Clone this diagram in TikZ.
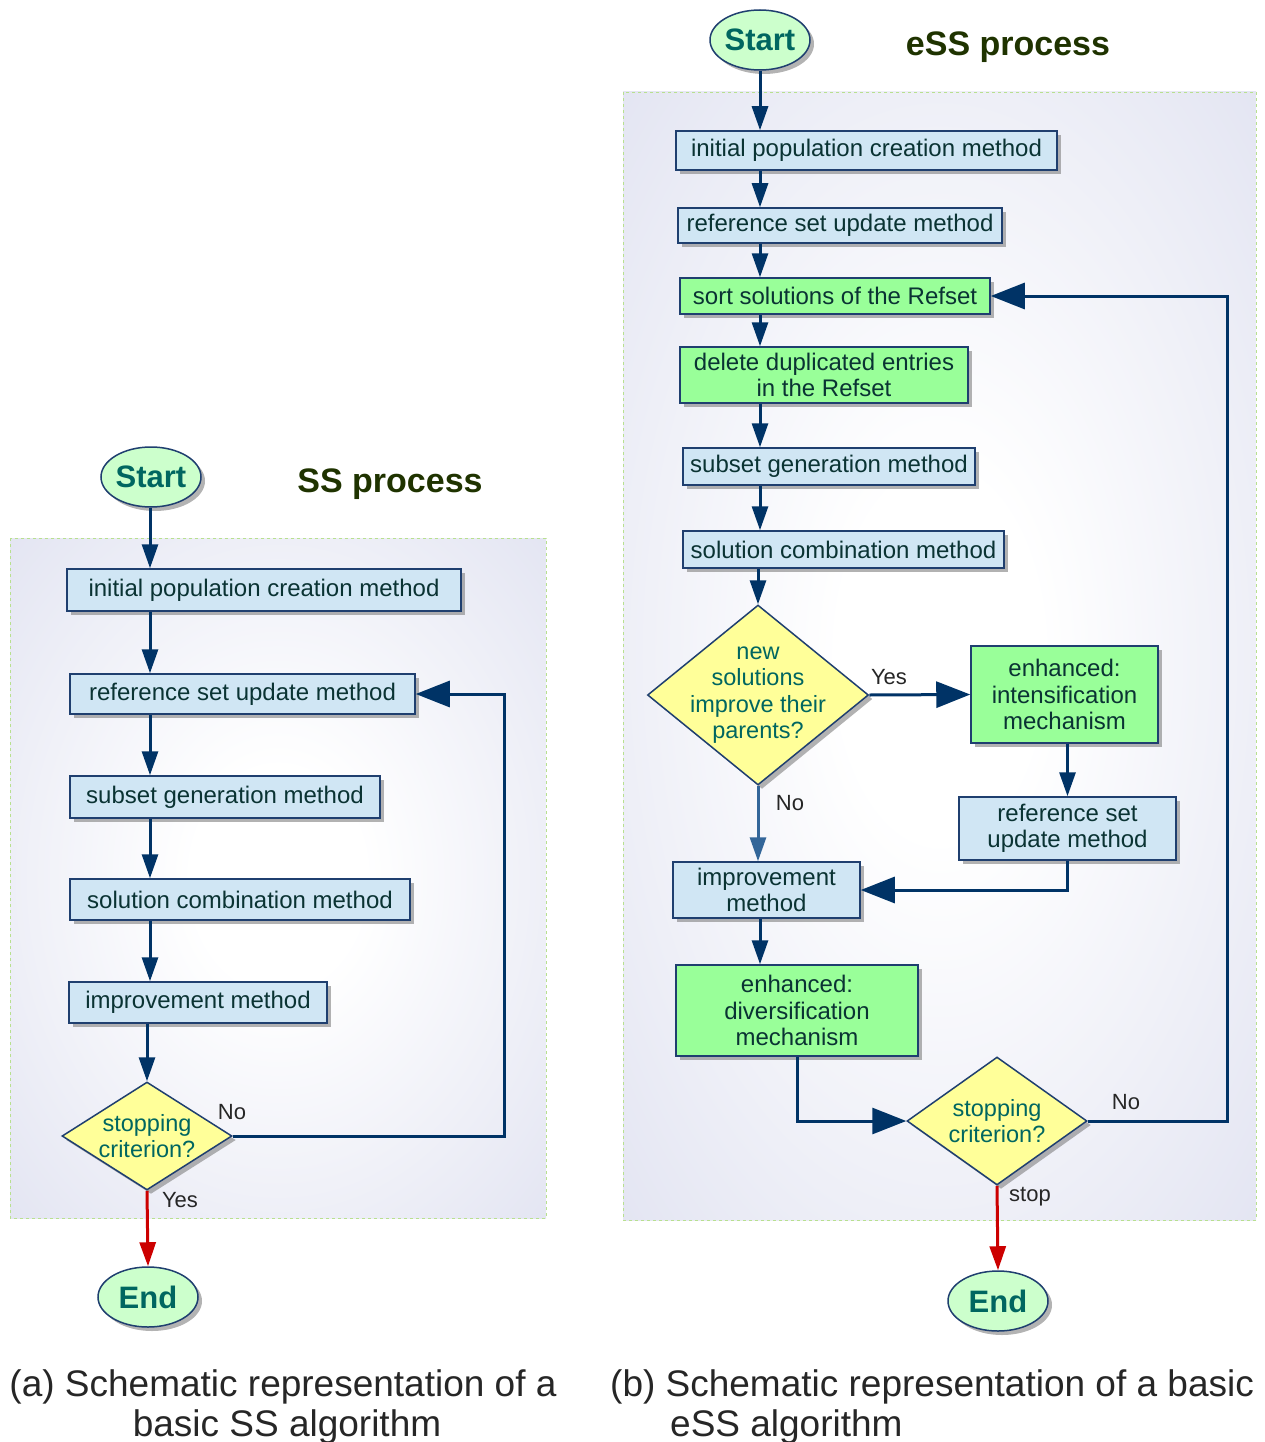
\documentclass[tikz,border=0pt]{standalone}
\usepackage{fontspec}
\setmainfont{Liberation Sans}
\usetikzlibrary{shapes.geometric,arrows.meta,shadows}
\definecolor{boxblue}{HTML}{D0E6F4}
\definecolor{boxgreen}{HTML}{99FF99}
\definecolor{termgreen}{HTML}{CCFFCC}
\definecolor{diayellow}{HTML}{FFFF99}
\definecolor{edgeblue}{HTML}{1F3F6F}
\definecolor{flowblue}{HTML}{003366}
\definecolor{noblue}{HTML}{336699}
\definecolor{stopred}{HTML}{CC0000}
\definecolor{tealtext}{HTML}{006660}
\definecolor{boxtext}{HTML}{0A3333}
\definecolor{titlegreen}{HTML}{1F3300}
\definecolor{bglav}{HTML}{DFE1F0}
\definecolor{bgframe}{HTML}{B8E08F}
\pgfdeclareradialshading{panel}{\pgfpoint{0bp}{0bp}}{color(0bp)=(white);color(8bp)=(white);color(40bp)=(bglav);color(60bp)=(bglav)}
\tikzset{
  every node/.style={font=\fontsize{24}{26.5}\selectfont},
  shadowed/.style={drop shadow={shadow xshift=4pt,shadow yshift=-4pt,fill=black!50,opacity=.6}},
  method/.style={rectangle,draw=edgeblue,line width=1.5pt,fill=boxblue,text=boxtext,inner sep=0pt,align=center,shadowed},
  enh/.style={method,fill=boxgreen},
  term/.style={ellipse,draw=edgeblue,line width=1.5pt,fill=termgreen,text=tealtext,inner sep=0pt,
    minimum width=100pt,minimum height=60pt,font=\fontsize{31}{31}\selectfont\bfseries,shadowed},
  decide/.style={diamond,draw=edgeblue,line width=1.5pt,fill=diayellow,inner sep=0pt,shadowed},
  dtext/.style={text=tealtext,align=center,font=\fontsize{23.5}{26.5}\selectfont},
  flow/.style={draw=flowblue,line width=3pt,-{Triangle[length=24pt,width=16pt]}},
  back/.style={flow,-{Triangle[length=34pt,width=26pt]}},
  halt/.style={flow,draw=stopred},
  lbl/.style={text=black!85,font=\fontsize{22}{22}\selectfont},
  proctitle/.style={text=titlegreen,font=\fontsize{34}{34}\selectfont\bfseries},
  captext/.style={text=black!85,font=\fontsize{37}{40}\selectfont,inner sep=0pt},
  panelbg/.style={shading=panel,draw=bgframe,dashed,line width=0.8pt},
}
\begin{document}
\begin{tikzpicture}[x=1pt,y=-1pt]
\useasboundingbox (0,0) rectangle (1264,1442);
% panels
\shadedraw[panelbg] (10,538) rectangle (546,1218);
\shadedraw[panelbg] (623,92) rectangle (1256,1220);

% (a) SS
\node[term] (startA) at (151,477) {Start};
\node[proctitle] (titleA) at (390,484) {SS process};
\node[method,minimum width=394pt,minimum height=42pt] (initA) at (264,590) {initial population creation method};
\node[method,minimum width=345pt,minimum height=40pt] (refA) at (242.5,694) {reference set update method};
\node[method,minimum width=310pt,minimum height=42pt] (subA) at (225,797) {subset generation method};
\node[method,minimum width=340pt,minimum height=41pt] (combA) at (240,899.5) {solution combination method};
\node[method,minimum width=258pt,minimum height=41pt] (impA) at (198,1002.5) {improvement method};
\node[decide,minimum width=170pt,minimum height=108pt,
  label={[dtext]center:stopping\\criterion?}] (stopA) at (147,1136) {};
\node[term] (endA) at (148,1297) {End};
\node[lbl] (noA) at (232,1112) {No};
\node[lbl] (yesA) at (180,1200) {Yes};

\coordinate (colA) at (150,0);
\coordinate (loopA) at (504,0);
\foreach \a/\b in {startA/initA,initA/refA,refA/subA,subA/combA,combA/impA}
  \draw[flow] (\a.south -| colA) -- (\b.north -| colA);
\draw[flow] (impA.south -| stopA) -- (stopA.north);
\draw[back] (stopA.east) -- (stopA.east -| loopA) |- (refA.east);
\draw[halt] (stopA.south) -- (endA.north);

% (b) eSS
\node[term] (startB) at (760,40) {Start};
\node[proctitle] (titleB) at (1008,47) {eSS process};
\node[method,minimum width=381pt,minimum height=39pt] (initB) at (866.5,150.5) {initial population creation method};
\node[method,minimum width=324pt,minimum height=35pt] (refB) at (840,225.5) {reference set update method};
\node[enh,minimum width=310pt,minimum height=36pt] (sortB) at (835,296) {sort solutions of the Refset};
\node[enh,minimum width=288pt,minimum height=56pt] (delB) at (824,375) {delete duplicated entries\\in the Refset};
\node[method,minimum width=292pt,minimum height=37pt] (subB) at (829,466.5) {subset generation method};
\node[method,minimum width=321pt,minimum height=37pt] (combB) at (843.5,549.5) {solution combination method};
\node[decide,minimum width=221pt,minimum height=180pt,
  label={[dtext]center:new\\solutions\\improve their\\parents?}] (newB) at (758,695) {};
\node[enh,minimum width=187pt,minimum height=97pt] (intB) at (1064.5,694.5) {enhanced:\\intensification\\mechanism};
\node[method,minimum width=217pt,minimum height=63pt] (ref2B) at (1067.5,828.5) {reference set\\update method};
\node[method,minimum width=187pt,minimum height=56pt] (impB) at (766.5,890) {improvement\\method};
\node[enh,minimum width=242pt,minimum height=91pt] (divB) at (797,1010.5) {enhanced:\\diversification\\mechanism};
\node[decide,minimum width=180pt,minimum height=128pt,
  label={[dtext]center:stopping\\criterion?}] (stopB) at (997,1121) {};
\node[term] (endB) at (998,1301) {End};
\node[lbl] (yesB) at (889,677) {Yes};
\node[lbl] (noB) at (790,803) {No};
\node[lbl] (noB2) at (1126,1102) {No};
\node[lbl] (stopLbl) at (1030,1197) {stop};

\coordinate (colB) at (760,0);
\coordinate (loopB) at (1227,0);
\foreach \a/\b in {startB/initB,initB/refB,refB/sortB,sortB/delB,delB/subB,subB/combB,impB/divB}
  \draw[flow] (\a.south -| colB) -- (\b.north -| colB);
\draw[flow] (combB.south -| newB) -- (newB.north);
\draw[flow,draw=noblue] (newB.south) -- (newB.south |- impB.north);
\draw[back] (newB.east) -- (intB.west);
\draw[flow] (intB.south -| ref2B) -- (ref2B.north);
\draw[back] (ref2B.south) |- (impB.east);
\draw[back] (divB.south) |- (stopB.west);
\draw[back] (stopB.east) -- (stopB.east -| loopB) |- (sortB.east);
\draw[halt] (stopB.south) -- (endB.north);

% captions
\node[captext,anchor=base] (capA1) at (283,1396) {(a) Schematic representation of a};
\node[captext,anchor=base] (capA2) at (287,1436) {basic SS algorithm};
\node[captext,anchor=base west] (capB1) at (610,1396) {(b) Schematic representation of a basic};
\node[captext,anchor=base west] (capB2) at (670,1436) {eSS algorithm};
\end{tikzpicture}
\end{document}
